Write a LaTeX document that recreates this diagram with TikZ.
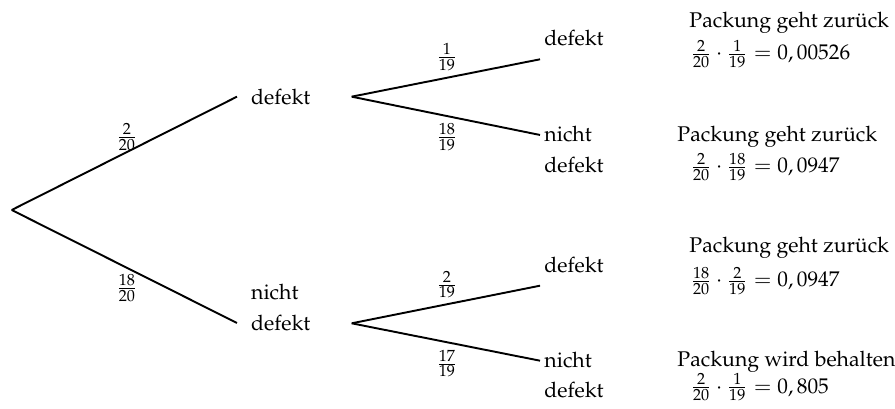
\documentclass[tikz,border=0pt]{standalone}
\usepackage[T1]{fontenc}
\usepackage{mathpazo}

\begin{document}
\begin{tikzpicture}[
  branch/.style={line width=0.9pt},
  outcome/.style={inner sep=0pt, anchor=base west},
  prob/.style={inner sep=0pt},
  result/.style={inner sep=0pt, anchor=base west}
]
\useasboundingbox (0,0) rectangle (14.793,6.760);

% geometry
\def\xa{3.917}        % end of first stage
\def\xb{5.813}        % start of second stage
\def\xc{8.926}        % end of second stage
\def\xr{11.405}       % left edge of the products

% branch points
\coordinate (root) at (0.193,3.289);
\coordinate (d)    at (\xa,5.162);
\coordinate (n)    at (\xa,1.421);
\coordinate (d0)   at (\xb,5.162);
\coordinate (n0)   at (\xb,1.416);
\coordinate (dd)   at (\xc,5.780);
\coordinate (dn)   at (\xc,4.529);
\coordinate (nd)   at (\xc,2.038);
\coordinate (nn)   at (\xc,0.798);

% branches
\draw[branch] (root) -- (d);
\draw[branch] (root) -- (n);
\draw[branch] (d0) -- (dd);
\draw[branch] (d0) -- (dn);
\draw[branch] (n0) -- (nd);
\draw[branch] (n0) -- (nn);

% first stage
\node[outcome] (lbd)  at (4.144,5.025) {defekt};
\node[outcome] (lbn1) at (4.144,1.802) {nicht};
\node[outcome] (lbn2) at (4.144,1.289) {defekt};
\node[prob] (pd) at (2.099,4.496) {$\frac{2}{20}$};
\node[prob] (pn) at (2.099,2.000) {$\frac{18}{20}$};

% second stage
\node[outcome] (lbdd)  at (8.992,6.000) {defekt};
\node[outcome] (lbdn1) at (8.992,4.413) {nicht};
\node[outcome] (lbdn2) at (8.992,3.901) {defekt};
\node[outcome] (lbnd)  at (8.992,2.248) {defekt};
\node[outcome] (lbnn1) at (8.992,0.678) {nicht};
\node[outcome] (lbnn2) at (8.992,0.182) {defekt};
\node[prob] (pdd) at (7.388,5.818) {$\frac{1}{19}$};
\node[prob] (pdn) at (7.388,4.496) {$\frac{18}{19}$};
\node[prob] (pnd) at (7.388,2.058) {$\frac{2}{19}$};
\node[prob] (pnn) at (7.388,0.752) {$\frac{17}{19}$};

% path products
\node[result] (rdd)  at (11.388,6.302) {Packung geht zur\"uck};
\node[result] (mdd)  at (\xr,5.769)    {$\frac{2}{20}\cdot\frac{1}{19}=0,00526$};
\node[result] (rdn)  at (11.190,4.413) {Packung geht zur\"uck};
\node[result] (mdn)  at (\xr,3.901)    {$\frac{2}{20}\cdot\frac{18}{19}=0,0947$};
\node[result] (rnd)  at (11.388,2.579) {Packung geht zur\"uck};
\node[result] (mnd)  at (\xr,2.021)    {$\frac{18}{20}\cdot\frac{2}{19}=0,0947$};
\node[result] (rnn)  at (11.190,0.699) {Packung wird behalten};
\node[result] (mnn)  at (\xr,0.264)    {$\frac{2}{20}\cdot\frac{1}{19}=0,805$};

\end{tikzpicture}
\end{document}
